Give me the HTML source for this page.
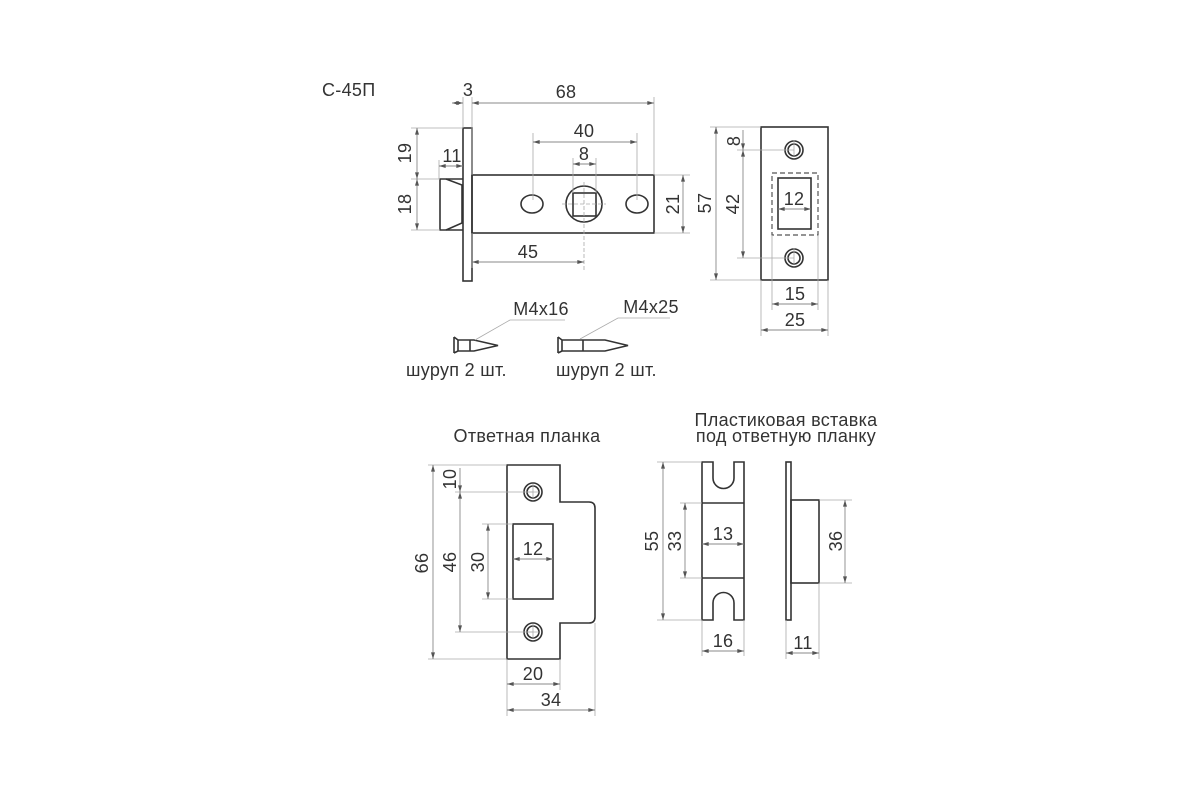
<!DOCTYPE html>
<html><head><meta charset="utf-8"><style>
html,body{margin:0;padding:0;background:#fff;}
svg{display:block;}
text{font-family:"Liberation Sans Narrow","Liberation Sans","DejaVu Sans",sans-serif;font-size:18px;fill:#333;letter-spacing:0.3px;}
.o{fill:none;stroke:#333;stroke-width:1.6;}
.a{fill:none;stroke:#888;stroke-width:0.9;marker-start:url(#ar);marker-end:url(#ar);}
.e{fill:none;stroke:#aaa;stroke-width:0.8;}
</style></head><body>
<svg width="1200" height="800" viewBox="0 0 1200 800" xmlns="http://www.w3.org/2000/svg">
<defs>
<marker id="ar" viewBox="0 0 10 6" refX="10" refY="3" markerWidth="7" markerHeight="4" orient="auto-start-reverse" markerUnits="userSpaceOnUse"><path d="M0,0 L10,3 L0,6 z" fill="#555"/></marker>
</defs>

<!-- ===== Lock top view ===== -->
<text x="322" y="96" text-anchor="start">С-45П</text>
<rect class="o" x="463" y="128" width="9" height="153"/>
<rect class="o" x="472" y="175" width="182" height="58"/>
<path class="o" d="M463,179 H440 V230 H463"/>
<path class="o" d="M446,179 L462,185 V223 L446,230"/>
<ellipse class="o" cx="532" cy="204" rx="11" ry="9"/>
<ellipse class="o" cx="637" cy="204" rx="11" ry="9"/>
<circle class="o" cx="584" cy="204" r="18"/>
<rect class="o" x="573" y="193" width="23" height="23"/>
<path class="e" d="M562,204 H606 M584,182 V270" stroke-dasharray="4 2"/>
<path class="e" d="M463,97 V128 M472,97 V175 M654,97 V175"/>
<line class="a" x1="452" y1="103" x2="463" y2="103"/>
<line class="a" x1="472" y1="103" x2="654" y2="103"/>
<text x="468" y="96" text-anchor="middle">3</text>
<text x="566" y="98" text-anchor="middle">68</text>
<path class="e" d="M533,133 V200 M637,133 V200"/>
<line class="a" x1="533" y1="142" x2="637" y2="142"/>
<text x="584" y="137" text-anchor="middle">40</text>
<path class="e" d="M573,158 V193 M596,158 V193"/>
<line class="a" x1="573" y1="164" x2="596" y2="164"/>
<text x="584" y="160" text-anchor="middle">8</text>
<path class="e" d="M472,233 V268"/>
<line class="a" x1="472" y1="262" x2="584" y2="262"/>
<text x="528" y="258" text-anchor="middle">45</text>
<path class="e" d="M411,128 H463 M411,179 H440 M411,230 H440"/>
<line class="a" x1="417" y1="128" x2="417" y2="179"/>
<line class="a" x1="417" y1="179" x2="417" y2="230"/>
<text transform="translate(411,153) rotate(-90)" text-anchor="middle">19</text>
<text transform="translate(411,204) rotate(-90)" text-anchor="middle">18</text>
<path class="e" d="M439,160 V179"/>
<line class="a" x1="439" y1="166" x2="463" y2="166"/>
<text x="452" y="162" text-anchor="middle">11</text>
<path class="e" d="M654,175 H690 M654,233 H690"/>
<line class="a" x1="683" y1="175" x2="683" y2="233"/>
<text transform="translate(679,204) rotate(-90)" text-anchor="middle">21</text>

<!-- ===== Faceplate front ===== -->
<rect class="o" x="761" y="127" width="67" height="153"/>
<circle class="o" cx="794" cy="150" r="9"/><circle class="o" cx="794" cy="150" r="6"/>
<circle class="o" cx="794" cy="258" r="9"/><circle class="o" cx="794" cy="258" r="6"/>
<path class="e" d="M794,140 V156 M794,248 V264"/>
<rect class="o" x="778" y="178" width="33" height="51"/>
<rect x="772" y="173" width="46" height="62" fill="none" stroke="#555" stroke-width="1.2" stroke-dasharray="5 3"/>
<path class="e" d="M710,127 H761 M710,280 H761 M737,150 H794 M737,258 H794"/>
<line class="a" x1="716" y1="127" x2="716" y2="280"/>
<text transform="translate(711,203) rotate(-90)" text-anchor="middle">57</text>
<line class="a" x1="743" y1="130" x2="743" y2="150" style="marker-start:none"/>
<line class="a" x1="743" y1="150" x2="743" y2="258"/>
<text transform="translate(740,141) rotate(-90)" text-anchor="middle" font-size="16">8</text>
<text transform="translate(739,204) rotate(-90)" text-anchor="middle">42</text>
<line class="a" x1="778" y1="209" x2="811" y2="209"/>
<text x="794" y="205" text-anchor="middle">12</text>
<path class="e" d="M772,235 V310 M818,235 V310 M761,280 V336 M828,280 V336"/>
<line class="a" x1="772" y1="304" x2="818" y2="304"/>
<text x="795" y="300" text-anchor="middle">15</text>
<line class="a" x1="761" y1="330" x2="828" y2="330"/>
<text x="795" y="326" text-anchor="middle">25</text>

<!-- ===== Screws ===== -->
<path class="o" stroke-width="1.3" d="M454,337 V353 M454,337 L458,340 V351 L454,353 M458,340 H474 L498,345.5 L474,351 H458 M470,340 V351"/>
<path class="e" stroke="#888" d="M475,340 L510,320 H565"/>
<text x="541" y="315" text-anchor="middle">M4x16</text>
<text x="406" y="376">шуруп 2 шт.</text>
<path class="o" stroke-width="1.3" d="M558,337 V353 M558,337 L562,340 V351 L558,353 M562,340 H605 L628,345.5 L605,351 H562 M583,340 V351"/>
<path class="e" stroke="#888" d="M580,339 L618,318 H670"/>
<text x="651" y="313" text-anchor="middle">M4x25</text>
<text x="556" y="376">шуруп 2 шт.</text>

<!-- ===== Strike plate ===== -->
<text x="527" y="442" text-anchor="middle" letter-spacing="1">Ответная планка</text>
<path class="o" d="M507,465 H560 V502 H589 Q595,502 595,508 V617 Q595,623 589,623 H560 V659 H507 Z"/>
<circle class="o" cx="533" cy="492" r="9"/><circle class="o" cx="533" cy="492" r="6"/>
<circle class="o" cx="533" cy="632" r="9"/><circle class="o" cx="533" cy="632" r="6"/>
<path class="e" d="M533,484 V498 M527,492 H539 M533,624 V638 M527,632 H539"/>
<rect class="o" x="513" y="524" width="40" height="75"/>
<path class="e" d="M428,465 H507 M428,659 H507 M455,492 H533 M455,632 H533 M482,524 H513 M482,599 H513"/>
<line class="a" x1="433" y1="465" x2="433" y2="659"/>
<text transform="translate(428,563) rotate(-90)" text-anchor="middle">66</text>
<line class="a" x1="460" y1="468" x2="460" y2="492" style="marker-start:none"/>
<line class="a" x1="460" y1="492" x2="460" y2="632"/>
<text transform="translate(456,479) rotate(-90)" text-anchor="middle" font-size="15">10</text>
<text transform="translate(456,562) rotate(-90)" text-anchor="middle">46</text>
<line class="a" x1="488" y1="524" x2="488" y2="599"/>
<text transform="translate(484,562) rotate(-90)" text-anchor="middle">30</text>
<line class="a" x1="513" y1="559" x2="553" y2="559"/>
<text x="533" y="555" text-anchor="middle">12</text>
<path class="e" d="M507,659 V716 M560,659 V690 M595,623 V716"/>
<line class="a" x1="507" y1="684" x2="560" y2="684"/>
<text x="533" y="680" text-anchor="middle">20</text>
<line class="a" x1="507" y1="710" x2="595" y2="710"/>
<text x="551" y="706" text-anchor="middle">34</text>

<!-- ===== Plastic insert ===== -->
<text x="786" y="426" text-anchor="middle" letter-spacing="1">Пластиковая вставка</text>
<text x="786" y="442" text-anchor="middle" letter-spacing="1">под ответную планку</text>
<path class="o" d="M702,462 H713 V478 A10.5,10.5 0 0 0 734,478 V462 H744 V620 H734 V603 A10.5,10.5 0 0 0 713,603 V620 H702 Z"/>
<path class="o" d="M702,503 H744 M702,578 H744"/>
<path class="e" d="M657,462 H702 M657,620 H702 M680,503 H702 M680,578 H702"/>
<line class="a" x1="663" y1="462" x2="663" y2="620"/>
<text transform="translate(658,541) rotate(-90)" text-anchor="middle">55</text>
<line class="a" x1="685" y1="503" x2="685" y2="578"/>
<text transform="translate(681,541) rotate(-90)" text-anchor="middle">33</text>
<line class="a" x1="702" y1="544" x2="744" y2="544"/>
<text x="723" y="540" text-anchor="middle">13</text>
<path class="e" d="M702,620 V656 M744,620 V656"/>
<line class="a" x1="702" y1="651" x2="744" y2="651"/>
<text x="723" y="647" text-anchor="middle">16</text>
<rect class="o" x="786" y="462" width="5" height="158"/>
<rect class="o" x="791" y="500" width="28" height="83"/>
<path class="e" d="M819,500 H852 M819,583 H852 M786,620 V659 M819,583 V659"/>
<line class="a" x1="845" y1="500" x2="845" y2="583"/>
<text transform="translate(842,541) rotate(-90)" text-anchor="middle">36</text>
<line class="a" x1="786" y1="653" x2="819" y2="653"/>
<text x="803" y="649" text-anchor="middle">11</text>
</svg>
</body></html>
